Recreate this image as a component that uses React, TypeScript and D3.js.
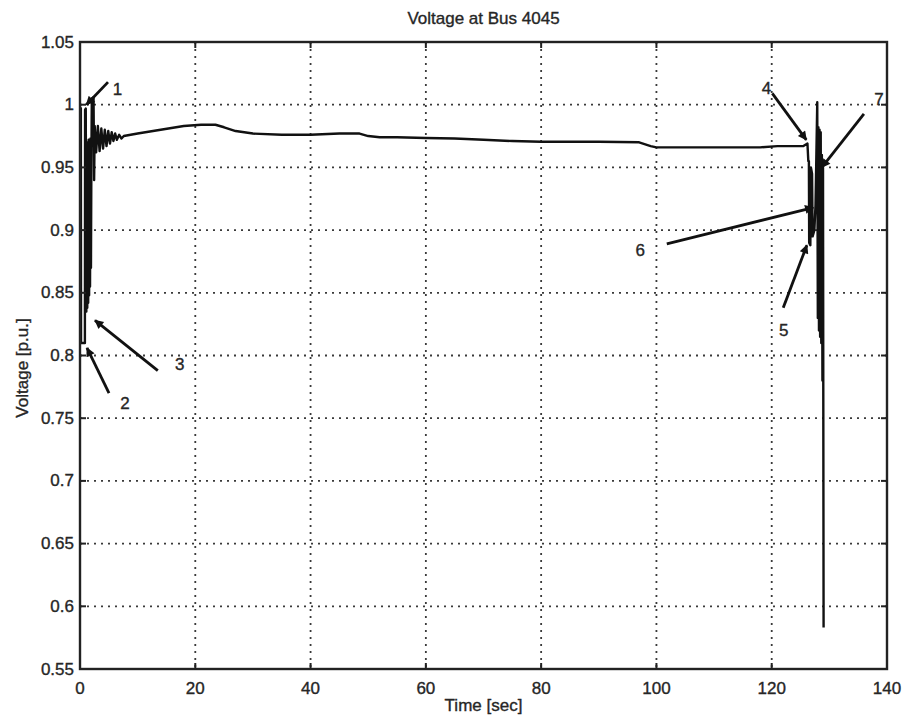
import React from "react";
import * as d3 from "d3";

const width = 909;
const height = 717;
const margin = { top: 42, right: 22, bottom: 48, left: 80 };

// time [sec] and voltage [p.u.]
const timeSec = [
  0, 0.15, 0.18, 0.85, 0.88, 1.0, 1.1, 1.18, 1.26, 1.34, 1.42, 1.5, 1.58, 1.66,
  1.74, 1.82, 1.9, 1.98, 2.05, 2.35, 2.45, 2.55, 2.8, 3.1, 3.4, 3.7, 4.0, 4.3,
  4.6, 4.9, 5.2, 5.5, 5.8, 6.1, 6.4, 6.8, 7.2, 7.6, 10, 14, 18, 21, 23.5, 25,
  27, 30, 35, 40, 45, 48.5, 50, 52, 55, 60, 65, 70, 75, 80, 85, 90, 97, 99, 100,
  110, 118, 121, 125.5, 126.2, 126.35, 126.45, 126.5, 126.7, 126.8, 127.0,
  127.1, 127.4, 127.6, 127.9, 128.0, 128.1, 128.2, 128.3, 128.4, 128.5, 128.6,
  128.7, 128.8, 128.9, 129.0,
];
const voltagePu = [
  0.998, 0.997, 0.81, 0.81, 0.996, 0.997, 0.835, 0.968, 0.838, 0.97, 0.842,
  0.972, 0.848, 0.971, 0.855, 0.973, 0.87, 0.96, 1.005, 1.006, 0.94, 0.983,
  0.962, 0.983, 0.963, 0.981, 0.965, 0.98, 0.967, 0.979, 0.969, 0.978, 0.971,
  0.977, 0.972, 0.976, 0.973, 0.975, 0.977, 0.98, 0.983, 0.984, 0.984, 0.982,
  0.979, 0.977, 0.976, 0.976, 0.977, 0.977, 0.975, 0.974, 0.974, 0.9735, 0.973,
  0.972, 0.971, 0.9705, 0.9705, 0.9705, 0.97, 0.967, 0.966, 0.966, 0.966, 0.967,
  0.967, 0.969, 0.955, 0.955, 0.89, 0.888, 0.95, 0.945, 0.895, 0.9, 0.92, 1.002,
  0.83, 0.982, 0.82, 0.98, 0.815, 0.978, 0.81, 0.96, 0.78, 0.95, 0.583,
];

const xTicks = [0, 20, 40, 60, 80, 100, 120, 140];
const yTicks = [0.55, 0.6, 0.65, 0.7, 0.75, 0.8, 0.85, 0.9, 0.95, 1, 1.05];

// annotation arrows: label, tail (t, v), head (t, v), label position (t, v)
const noteLabels = ["1", "2", "3", "4", "5", "6", "7"];
const noteTail = [
  [4.86, 1.018], [5.03, 0.77], [13.5, 0.788], [120.1, 1.009],
  [122.0, 0.838], [101.8, 0.889], [136.0, 0.9926],
];
const noteHead = [
  [1.1, 1.0], [1.21, 0.806], [2.6, 0.828], [126.0, 0.972],
  [126.1, 0.888], [127.2, 0.918], [128.7, 0.95],
];
const noteText = [
  [6.5, 1.012], [7.8, 0.762], [17.3, 0.793], [119.1, 1.013],
  [122.1, 0.82], [97.2, 0.884], [138.6, 1.004],
];

const font = "'Liberation Sans', Arial, sans-serif";
const ink = "#262626";

const Label = ({ x, y, anchor = "middle", size = 17, children, transform }: any) => (
  <text
    x={x}
    y={y}
    transform={transform}
    textAnchor={anchor}
    dominantBaseline="central"
    fontFamily={font}
    fontSize={size}
    fill={ink}
    stroke={ink}
    strokeWidth={0.35}
  >
    {children}
  </text>
);

export default function App() {
  const x = d3
    .scaleLinear()
    .domain([0, 140])
    .range([margin.left, width - margin.right]);
  const y = d3
    .scaleLinear()
    .domain([0.55, 1.05])
    .range([height - margin.bottom, margin.top]);

  const line = d3
    .line<number>()
    .x((d, i) => x(timeSec[i]))
    .y(d => y(d));

  const x0 = x(0);
  const x1 = x(140);
  const y0 = y(0.55);
  const y1 = y(1.05);
  const tickLen = 6;

  return (
    <svg
      width={width}
      height={height}
      style={{ position: "absolute", left: 0, top: 0, background: "#fff" }}
    >
      <defs>
        <marker
          id="head"
          viewBox="0 0 10 10"
          refX="9"
          refY="5"
          markerWidth="12"
          markerHeight="9"
          markerUnits="userSpaceOnUse"
          orient="auto"
        >
          <path d="M0,0 L10,5 L0,10 z" fill="#111" />
        </marker>
      </defs>

      {/* grid */}
      {xTicks.slice(1, -1).map(t => (
        <line
          key={"gx" + t}
          x1={x(t)}
          x2={x(t)}
          y1={y1}
          y2={y0}
          stroke="#3a3a3a"
          strokeWidth={1.8}
          strokeDasharray="2,5"
        />
      ))}
      {yTicks.slice(1, -1).map(v => (
        <line
          key={"gy" + v}
          x1={x0}
          x2={x1}
          y1={y(v)}
          y2={y(v)}
          stroke="#3a3a3a"
          strokeWidth={1.8}
          strokeDasharray="2,5"
        />
      ))}

      {/* trace */}
      <path
        d={line(voltagePu) || ""}
        fill="none"
        stroke="#111"
        strokeWidth={2.4}
        strokeLinejoin="round"
      />

      {/* annotations */}
      {noteLabels.map((lab, i) => (
        <g key={"n" + lab}>
          <line
            x1={x(noteTail[i][0])}
            y1={y(noteTail[i][1])}
            x2={x(noteHead[i][0])}
            y2={y(noteHead[i][1])}
            stroke="#111"
            strokeWidth={2.8}
            markerEnd="url(#head)"
          />
          <Label x={x(noteText[i][0])} y={y(noteText[i][1])}>
            {lab}
          </Label>
        </g>
      ))}

      {/* axes box */}
      <rect
        x={x0}
        y={y1}
        width={x1 - x0}
        height={y0 - y1}
        fill="none"
        stroke="#222"
        strokeWidth={2.4}
      />
      {xTicks.map(t => (
        <g key={"tx" + t}>
          <line x1={x(t)} x2={x(t)} y1={y0} y2={y0 - tickLen} stroke="#222" strokeWidth={2} />
          <line x1={x(t)} x2={x(t)} y1={y1} y2={y1 + tickLen} stroke="#222" strokeWidth={2} />
          <Label x={x(t)} y={y0 + 19}>
            {t}
          </Label>
        </g>
      ))}
      {yTicks.map(v => (
        <g key={"ty" + v}>
          <line x1={x0} x2={x0 + tickLen} y1={y(v)} y2={y(v)} stroke="#222" strokeWidth={2} />
          <line x1={x1} x2={x1 - tickLen} y1={y(v)} y2={y(v)} stroke="#222" strokeWidth={2} />
          <Label x={x0 - 6} y={y(v)} anchor="end">
            {d3.format("")(v)}
          </Label>
        </g>
      ))}

      {/* labels */}
      <Label x={(x0 + x1) / 2} y={18}>
        Voltage at Bus 4045
      </Label>
      <Label x={(x0 + x1) / 2} y={705}>
        Time [sec]
      </Label>
      <Label transform="translate(22, 368) rotate(-90)" x={0} y={0}>
        Voltage [p.u.]
      </Label>
    </svg>
  );
}
